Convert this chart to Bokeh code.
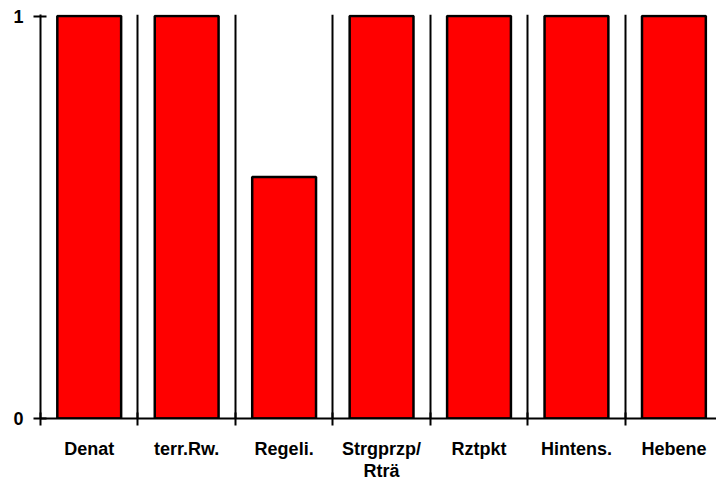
from bokeh.plotting import figure
from bokeh.models import FixedTicker, Range1d, ColumnDataSource
from bokeh.embed import file_html
from bokeh.resources import INLINE

categories = ["Denat", "terr.Rw.", "Regeli.", "Strgprzp/\nRträ", "Rztpkt", "Hintens.", "Hebene"]
values = [1, 1, 0.6, 1, 1, 1, 1]
y_ticks = [0, 1]

n = len(categories)
centers = [i + 0.5 for i in range(n)]
boundaries = list(range(n))

src = ColumnDataSource(dict(x=centers, top=values))

p = figure(width=716, height=483, output_backend="svg", toolbar_location=None,
           x_range=Range1d(0, 6.937), y_range=Range1d(0, 1.004),
           min_border_left=40, min_border_right=0, min_border_top=14, min_border_bottom=60)
p.outline_line_color = None
p.background_fill_color = "white"
p.border_fill_color = "white"

p.vbar(x="x", top="top", bottom=0, width=0.655, source=src,
       fill_color="#FF0000", line_color="black", line_width=2.5)

# separators
p.xgrid.ticker = FixedTicker(ticks=boundaries[1:])
p.xgrid.grid_line_color = "black"
p.xgrid.grid_line_width = 2
p.ygrid.grid_line_color = None

font = "Liberation Sans"

xa = p.xaxis[0]
xa.ticker = FixedTicker(ticks=centers, minor_ticks=boundaries)
xa.major_label_overrides = {c: lab for c, lab in zip(centers, categories)}
xa.major_tick_in = 0
xa.major_tick_out = 0
xa.minor_tick_in = 6
xa.minor_tick_out = 7
xa.minor_tick_line_color = "black"
xa.minor_tick_line_width = 2
xa.axis_line_width = 2
xa.axis_line_color = "black"
xa.major_label_text_font = font
xa.major_label_text_font_style = "bold"
xa.major_label_text_font_size = "18px"
xa.major_label_text_color = "black"
xa.major_label_text_line_height = 1.1
xa.major_label_standoff = 13

ya = p.yaxis[0]
ya.ticker = FixedTicker(ticks=y_ticks)
ya.major_label_overrides = {0: "0", 1: "1"}
ya.minor_tick_line_color = None
ya.major_tick_in = 6
ya.major_tick_out = 7
ya.major_tick_line_width = 2
ya.axis_line_width = 2
ya.axis_line_color = "black"
ya.major_label_text_font = font
ya.major_label_text_font_style = "bold"
ya.major_label_text_font_size = "18px"
ya.major_label_text_color = "black"
ya.major_label_standoff = 10

open("out.html", "w").write(file_html(p, INLINE))
